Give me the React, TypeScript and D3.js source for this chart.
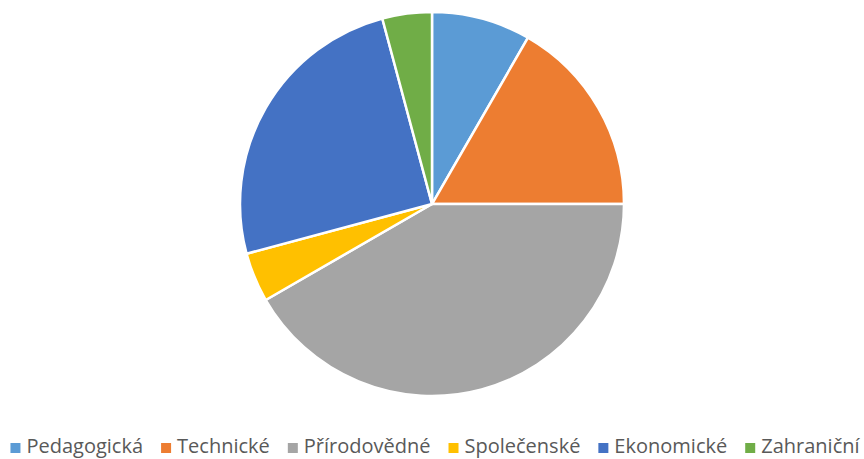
import React, { useEffect, useRef } from 'react';
import * as d3 from 'd3';

const categories = ['Pedagogická', 'Technické', 'Přírodovědné', 'Společenské', 'Ekonomické', 'Zahraniční'];
const values = [2, 4, 10, 1, 6, 1];
const colors = ['#5B9BD5', '#ED7D31', '#A5A5A5', '#FFC000', '#4472C4', '#70AD47'];

const W = 864;
const H = 459;

const App = () => {
  const ref = useRef<SVGSVGElement>(null);

  useEffect(() => {
    const svg = d3.select(ref.current);
    svg.selectAll('*').remove();

    const cx = 432, cy = 204, r = 192;
    const pie = d3.pie<number>().sort(null).value(d => d);
    const arc = d3.arc<d3.PieArcDatum<number>>().innerRadius(0).outerRadius(r);

    svg.append('g')
      .attr('transform', `translate(${cx},${cy})`)
      .selectAll('path')
      .data(pie(values))
      .enter()
      .append('path')
      .attr('d', arc)
      .attr('fill', (d, i) => colors[i])
      .attr('stroke', '#fff')
      .attr('stroke-width', 2.5)
      .attr('stroke-linejoin', 'round');

    // legend, laid out by measured text widths and centred
    const legend = svg.append('g');
    const items = legend.selectAll('g')
      .data(categories)
      .enter()
      .append('g');
    items.append('rect')
      .attr('width', 10).attr('height', 10)
      .attr('y', -10)
      .attr('fill', (d, i) => colors[i]);
    items.append('text')
      .attr('x', 16)
      .attr('y', 0)
      .attr('font-family', 'Open Sans, sans-serif')
      .attr('font-size', 20)
      .attr('fill', '#595959')
      .text(d => d);

    const gap = 18;
    let x = 0;
    items.each(function () {
      const g = d3.select(this);
      g.attr('transform', `translate(${x},0)`);
      const t = g.select<SVGTextElement>('text').node();
      x += 16 + (t ? t.getComputedTextLength() : 0) + gap;
    });
    const total = x - gap;
    legend.attr('transform', `translate(${(W - total) / 2 + 3},453)`);
  }, []);

  return (
    <svg ref={ref} width={W} height={H} style={{ position: 'absolute', left: 0, top: 0 }} />
  );
};

export default App;
